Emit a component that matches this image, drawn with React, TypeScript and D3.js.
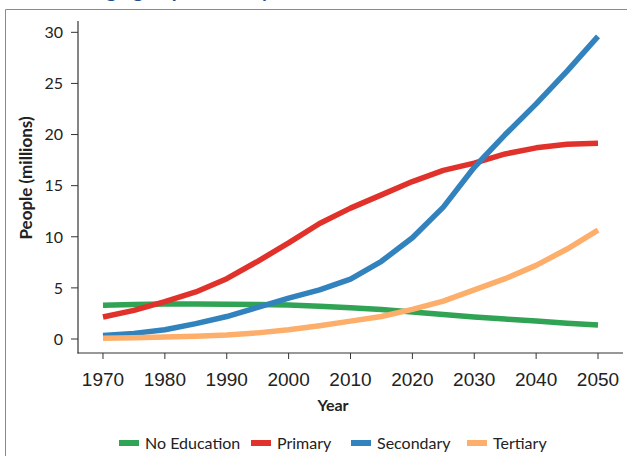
import React from "react";
import * as d3 from "d3";

const years = [1970, 1975, 1980, 1985, 1990, 1995, 2000, 2005, 2010, 2015, 2020, 2025, 2030, 2035, 2040, 2045, 2050];
const noEducation = [3.3, 3.38, 3.42, 3.42, 3.4, 3.38, 3.32, 3.2, 3.05, 2.88, 2.65, 2.4, 2.15, 1.95, 1.75, 1.55, 1.37];
const primary = [2.15, 2.8, 3.65, 4.6, 5.9, 7.6, 9.4, 11.3, 12.8, 14.1, 15.4, 16.5, 17.2, 18.1, 18.7, 19.05, 19.15];
const secondary = [0.35, 0.55, 0.9, 1.5, 2.2, 3.1, 4.0, 4.8, 5.85, 7.6, 9.9, 12.9, 16.8, 20.0, 23.0, 26.2, 29.6];
const tertiary = [0.07, 0.12, 0.2, 0.28, 0.4, 0.6, 0.9, 1.3, 1.75, 2.2, 2.9, 3.7, 4.8, 5.9, 7.2, 8.8, 10.65];

const seriesNames = ["No Education", "Primary", "Secondary", "Tertiary"];
const seriesValues = [noEducation, primary, secondary, tertiary];
const seriesColors = ["#31a354", "#e0312a", "#3182bd", "#fdae6b"];

const xTicks = [1970, 1980, 1990, 2000, 2010, 2020, 2030, 2040, 2050];
const yTicks = [0, 5, 10, 15, 20, 25, 30];

const W = 627;
const H = 456;

export default function App() {
  const x = d3.scaleLinear().domain([1965.96, 2054.04]).range([78, 623]);
  const y = d3.scaleLinear().domain([-1.369, 31.107]).range([353, 21]);
  const line = d3
    .line<number>()
    .x((_, i) => x(years[i]))
    .y((v) => y(v))
    .curve(d3.curveLinear);

  const legendX = [119, 251, 351, 467];
  const legendY = 443;

  return (
    <svg
      width={W}
      height={H}
      style={{ position: "absolute", left: 0, top: 0, background: "#fff" }}
    >
      <rect x={0} y={0} width={W} height={H} fill="#fff" />
      <text
        x={60}
        y={-3}
        fontFamily="Lato, sans-serif"
        fontWeight="bold"
        fontSize={20}
        fill="#1f4e8c"
      >
        Changing Population by Education Level
      </text>
      <path
        d={`M5.5,${H + 5} V9.5 H${W + 5}`}
        fill="none"
        stroke="#8a8a8a"
        strokeWidth={1}
      />

      {/* axes */}
      <line x1={78} x2={78} y1={21} y2={353.5} stroke="#333" strokeWidth={1.2} />
      <line x1={77.5} x2={623} y1={353} y2={353} stroke="#333" strokeWidth={1.2} />
      {yTicks.map((t) => (
        <g key={"y" + t}>
          <line x1={71} x2={78} y1={y(t)} y2={y(t)} stroke="#333" strokeWidth={1} />
          <text
            x={63}
            y={y(t)}
            dy="0.36em"
            textAnchor="end"
            fontFamily="Lato, sans-serif"
            fontSize={16}
            fill="#222"
          >
            {t}
          </text>
        </g>
      ))}
      {xTicks.map((t) => (
        <g key={"x" + t}>
          <line x1={x(t)} x2={x(t)} y1={353} y2={359} stroke="#333" strokeWidth={1} />
          <text
            x={x(t)}
            y={386}
            textAnchor="middle"
            fontFamily="'Liberation Sans', Arial, sans-serif"
            fontSize={19}
            fill="#222"
          >
            {t}
          </text>
        </g>
      ))}
      <text
        transform="translate(32,178) rotate(-90)"
        textAnchor="middle"
        fontFamily="Lato, sans-serif"
        fontWeight="bold"
        fontSize={17}
        fill="#222"
      >
        People (millions)
      </text>
      <text
        x={333}
        y={411}
        textAnchor="middle"
        fontFamily="Lato, sans-serif"
        fontWeight="bold"
        fontSize={16}
        fill="#222"
      >
        Year
      </text>

      {/* series */}
      {seriesValues.map((vals, i) => (
        <path
          key={seriesNames[i]}
          d={line(vals) || ""}
          fill="none"
          stroke={seriesColors[i]}
          strokeWidth={5.5}
          strokeLinejoin="round"
        />
      ))}

      {/* legend */}
      {seriesNames.map((name, i) => (
        <g key={"l" + name}>
          <line
            x1={legendX[i]}
            x2={legendX[i] + 20}
            y1={legendY}
            y2={legendY}
            stroke={seriesColors[i]}
            strokeWidth={6}
          />
          <text
            x={legendX[i] + 26}
            y={legendY}
            dy="0.36em"
            fontFamily="Lato, sans-serif"
            fontSize={16}
            fill="#222"
          >
            {name}
          </text>
        </g>
      ))}
    </svg>
  );
}
